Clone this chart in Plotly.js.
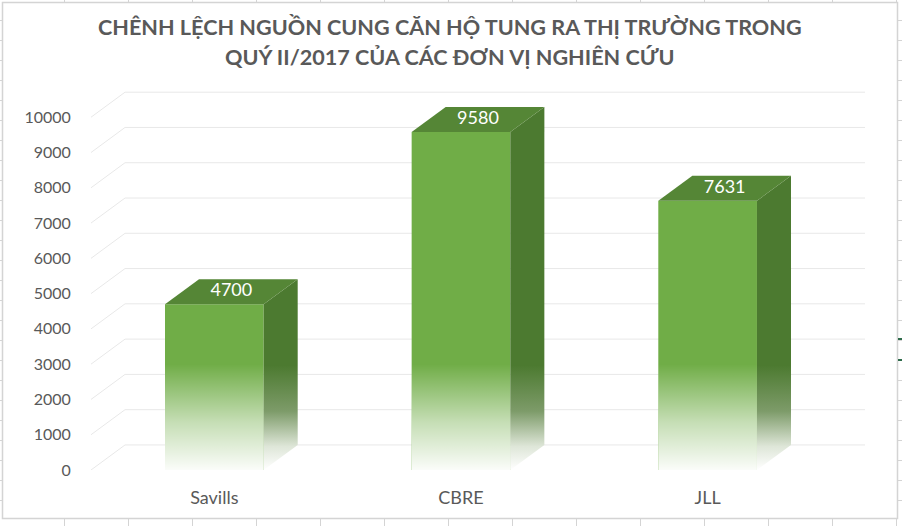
<!DOCTYPE html>
<html>
<head>
<meta charset="utf-8">
<script src="https://cdn.plot.ly/plotly-3.0.1.min.js"></script>
<style>html,body{margin:0;padding:0;background:#fff;}#chart{width:902px;height:526px;}</style>
</head>
<body>
<div id="chart"></div>
<script>
// ---- data ----
const categories = ['Savills', 'CBRE', 'JLL'];
const values = [4700, 9580, 7631];
const yTickVals = [0, 1000, 2000, 3000, 4000, 5000, 6000, 7000, 8000, 9000, 10000];
const titleLines = ['CHÊNH LỆCH NGUỒN CUNG CĂN HỘ TUNG RA THỊ TRƯỜNG TRONG', 'QUÝ II/2017 CỦA CÁC ĐƠN VỊ NGHIÊN CỨU'];

// ---- styling / geometry ----
const W = 902, H = 526;
const M = {l: 91, r: 37, t: 89, b: 56};
const BAR_W = 0.4;
const DX = 0.138;     // depth offset in x units
const DY = 710;       // depth offset in y units
const FADE = 3000;    // fade height
const X0 = -0.5, X1 = categories.length - 0.5 + DX;
const YMAX = 10800;
const FRONT = '#70AD47', TOP = '#558636', SIDE = '#4C7A30';
const GRID = '#E8E8E8';
const TXT = '#595959';
const FONT = 'Lato, "Open Sans", sans-serif';

const xs = categories.map((c, i) => i);
const traces = [];

// front faces (bars)
traces.push({
  type: 'bar', x: xs, y: values, width: BAR_W,
  marker: {color: FRONT, line: {width: 0}},
  hoverinfo: 'skip', showlegend: false
});

// white fade overlay on front faces
xs.forEach((x, i) => {
  const top = Math.min(values[i], FADE);
  traces.push({
    type: 'scatter', mode: 'lines', showlegend: false, hoverinfo: 'skip',
    x: [x - BAR_W / 2, x + BAR_W / 2, x + BAR_W / 2, x - BAR_W / 2, x - BAR_W / 2],
    y: [0, 0, top, top, 0],
    fill: 'toself', line: {width: 0, color: 'rgba(0,0,0,0)'},
    fillgradient: {type: 'vertical', start: 0, stop: FADE,
      colorscale: [[0, 'rgba(255,255,255,0.97)'], [0.45, 'rgba(255,255,255,0.6)'], [1, 'rgba(255,255,255,0)']]}
  });
});

// side faces
xs.forEach((x, i) => {
  const v = values[i];
  const xr = x + BAR_W / 2;
  traces.push({
    type: 'scatter', mode: 'lines', showlegend: false, hoverinfo: 'skip',
    x: [xr, xr + DX, xr + DX, xr, xr],
    y: [0, DY, v + DY, v, 0],
    fill: 'toself', line: {width: 0, color: 'rgba(0,0,0,0)'},
    fillgradient: {type: 'vertical', start: 0, stop: FADE + DY,
      colorscale: [[0, 'rgba(255,255,255,1)'], [0.18, 'rgb(222,230,216)'], [0.45, 'rgb(125,155,105)'], [0.8, SIDE], [1, SIDE]]}
  });
});

// top faces
xs.forEach((x, i) => {
  const v = values[i];
  traces.push({
    type: 'scatter', mode: 'lines', showlegend: false, hoverinfo: 'skip',
    x: [x - BAR_W / 2, x + BAR_W / 2, x + BAR_W / 2 + DX, x - BAR_W / 2 + DX, x - BAR_W / 2],
    y: [v, v, v + DY, v + DY, v],
    fill: 'toself', fillcolor: TOP, line: {width: 0, color: 'rgba(0,0,0,0)'}
  });
});

// data labels on top faces
traces.push({
  type: 'scatter', mode: 'text', showlegend: false, hoverinfo: 'skip',
  x: xs.map(x => x + DX / 2),
  y: values.map(v => v + DY / 2),
  text: values.map(v => String(v)),
  textposition: 'middle center',
  textfont: {family: FONT, size: 18, color: '#FFFFFF'},
  cliponaxis: false
});

// back-wall gridlines as shapes (below traces)
const shapes = yTickVals.map(t => ({
  type: 'path', xref: 'x', yref: 'y', layer: 'below',
  path: `M ${X0} ${t} L ${X0 + DX} ${t + DY} L ${X1} ${t + DY}`,
  line: {color: GRID, width: 1}
}));

// chart border + spreadsheet cell lines (decor, in pixel space converted to paper)
const pw = W - M.l - M.r, ph = H - M.t - M.b;
const px = p => (p - M.l) / pw;
const py = p => 1 - (p - M.t) / ph;
const CELL = '#D4D4D4';
shapes.push({type: 'rect', xref: 'paper', yref: 'paper', x0: px(2.5), x1: px(897.5), y0: py(2.5), y1: py(518.5),
  line: {color: CELL, width: 1.5}, fillcolor: 'rgba(0,0,0,0)', layer: 'above'});
for (let x = 64; x < W; x += 64) {
  shapes.push({type: 'line', xref: 'paper', yref: 'paper', x0: px(x + 0.5), x1: px(x + 0.5), y0: py(519), y1: py(526), line: {color: CELL, width: 1}});
  shapes.push({type: 'line', xref: 'paper', yref: 'paper', x0: px(x + 0.5), x1: px(x + 0.5), y0: py(0), y1: py(2), line: {color: CELL, width: 1}});
}
for (let y = 20.5; y < 518; y += 20) {
  shapes.push({type: 'line', xref: 'paper', yref: 'paper', x0: px(898), x1: px(902), y0: py(y), y1: py(y), line: {color: CELL, width: 1}});
  shapes.push({type: 'line', xref: 'paper', yref: 'paper', x0: px(0), x1: px(2), y0: py(y), y1: py(y), line: {color: CELL, width: 1}});
}
shapes.push({type: 'line', xref: 'paper', yref: 'paper', x0: px(898), x1: px(902), y0: py(339), y1: py(339), line: {color: '#2E6B4A', width: 2}});
shapes.push({type: 'line', xref: 'paper', yref: 'paper', x0: px(898), x1: px(902), y0: py(360), y1: py(360), line: {color: '#2E6B4A', width: 2}});

// title as annotations (one per line)
const titleY = [27, 57];
const annotations = titleLines.map((t, i) => ({
  text: t, xref: 'paper', yref: 'paper', x: px(450), y: py(titleY[i]),
  xanchor: 'center', yanchor: 'middle', showarrow: false,
  font: {family: FONT, size: 21.6, color: TXT, weight: 'bold'}
}));

const layout = {
  width: W, height: H,
  margin: M,
  paper_bgcolor: '#FFFFFF', plot_bgcolor: 'rgba(0,0,0,0)',
  showlegend: false,
  xaxis: {
    range: [X0, X1], showgrid: false, zeroline: false, showline: false,
    tickvals: xs, ticktext: categories,
    ticks: 'outside', ticklen: 11, tickcolor: 'rgba(0,0,0,0)',
    tickfont: {family: FONT, size: 18, color: TXT},
    fixedrange: true
  },
  yaxis: {
    range: [0, YMAX], showgrid: false, zeroline: false, showline: false,
    tickvals: yTickVals, ticktext: yTickVals.map(String),
    ticks: 'outside', ticklen: 16, tickcolor: 'rgba(0,0,0,0)',
    tickfont: {family: FONT, size: 16, color: TXT},
    fixedrange: true
  },
  shapes: shapes,
  annotations: annotations
};

Plotly.newPlot('chart', traces, layout, {displayModeBar: false, staticPlot: true});
</script>
</body>
</html>
